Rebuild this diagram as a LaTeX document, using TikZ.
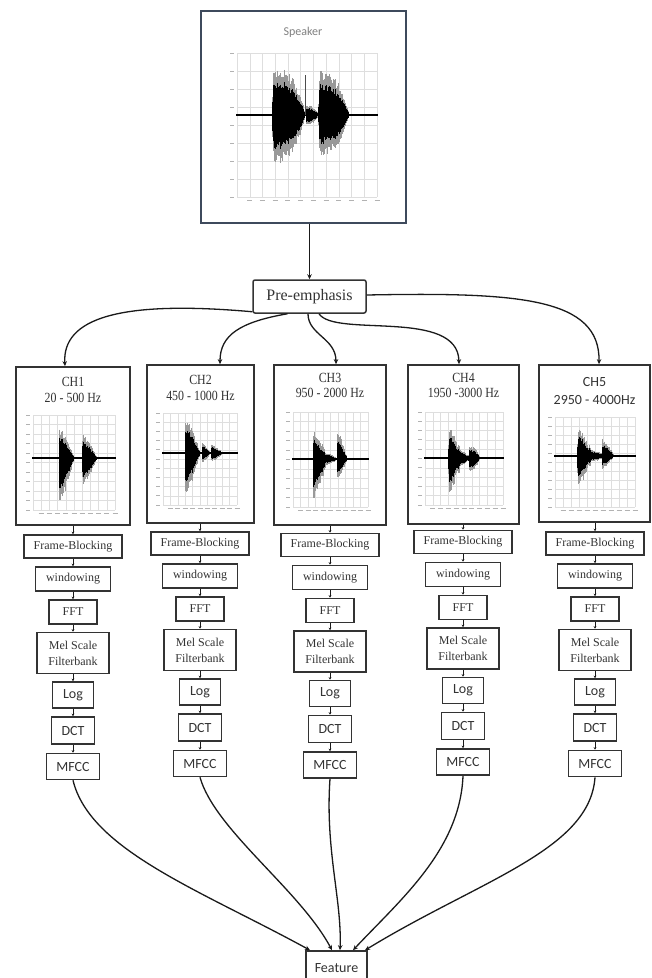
\documentclass[tikz,border=0pt]{standalone}
\usepackage{fontspec}
\setmainfont{Liberation Serif}
\newfontfamily\calib{Carlito}
\usepackage{graphicx}
\usetikzlibrary{arrows.meta}
\definecolor{txt}{HTML}{333333}
\definecolor{boxc}{HTML}{333333}
\definecolor{spkc}{HTML}{3E4A5C}
\definecolor{gridc}{HTML}{DEDEDE}
\definecolor{linec}{HTML}{1A1A1A}
\newcommand\sq[1]{\scalebox{0.85}[1]{#1}}
\newcommand\plotgrid[6]{%
 \foreach \k in {0,...,#5}{\pgfmathsetmacro\gx{#1+(#3-#1)*\k/#5}\draw[gridl] (\gx,#2) -- (\gx,#4);}
 \foreach \k in {0,...,#6}{\pgfmathsetmacro\gy{#2+(#4-#2)*\k/#6}\draw[gridl] (#1,\gy) -- (#3,\gy);\draw[tickl] (#1-7,\gy) -- (#1-3,\gy);}
 \foreach \k in {1,...,#5}{\pgfmathsetmacro\gx{#1+(#3-#1)*\k/#5}\draw[tickl] (\gx-2.5,#4+3) -- (\gx+2.5,#4+3);}
}
\newcommand\drawwave[6]{%
 \foreach \i in {0,...,#4}{%
  \pgfmathsetmacro\wt{\i/#4}%
  \pgfmathsetmacro\wvx{#1+(#2-#1)*\wt}%
  \pgfmathsetmacro\wup{(#5)*(0.75+0.25*rnd)+0.9}%
  \pgfmathsetmacro\wdn{(#6)*(0.75+0.25*rnd)+0.9}%
  \draw[wavegray] (\wvx,#3-\wup) -- (\wvx,#3+\wdn);
  \draw[wave] (\wvx,#3-0.72*\wup) -- (\wvx,#3+0.72*\wdn);
 }}
\newcommand\chainsteps[4]{%
 \node[sbox, minimum width=98pt, minimum height=23pt] (#1fb) at (#2,543.5+#3) {Frame-Blocking};
 \node[sbox, minimum width=75pt, minimum height=24pt] (#1win) at (#2,576+#3) {windowing};
 \node[sbox, minimum width=48pt, minimum height=24pt] (#1fft) at (#2,609+#3) {FFT};
 \node[sbox, minimum width=72pt, minimum height=41pt, align=center] (#1mel) at (#2,650+#3) {Mel Scale\\Filterbank};
 \node[cbox, minimum width=41pt, minimum height=26pt] (#1log) at (#2,692+#3) {Log};
 \node[cbox, minimum width=43pt, minimum height=27pt] (#1dct) at (#2,727.5+#3) {DCT};
 \node[cbox, minimum width=53pt, minimum height=26pt] (#1mfcc) at (#2,763.5+#3) {MFCC};
 \draw[link] (#1fb.north |- #4.south) -- (#1fb.north);
 \draw[link] (#1fb) -- (#1win);
 \draw[link] (#1win) -- (#1fft);
 \draw[link] (#1fft) -- (#1mel);
 \draw[link] (#1mel) -- (#1log);
 \draw[link] (#1log) -- (#1dct);
 \draw[link] (#1dct) -- (#1mfcc);
}
\begin{document}
\begin{tikzpicture}[x=1pt,y=-1pt,
 declare function={
  bu(\pq,\pa,\pb)=(\pq>\pa)*(\pq<\pb)*(1-((\pq-\pa)/(\pb-\pa))*((\pq-\pa)/(\pb-\pa)))*(1-0.3*(\pq-\pa)/(\pb-\pa))*min(1,(\pq-\pa)/(0.06*(\pb-\pa)));
  bs(\pq,\pa,\pb)=(\pq>\pa)*(\pq<\pb)*(1-((\pq-\pa)/(\pb-\pa))*((\pq-\pa)/(\pb-\pa))*((\pq-\pa)/(\pb-\pa)))*min(1,(\pq-\pa)/(0.05*(\pb-\pa)));
 },
 box/.style={draw=boxc, fill=white, inner sep=0pt, text=txt},
 chbox/.style={box, line width=1.7pt},
 sbox/.style={box, line width=1.6pt, font=\fontsize{12}{16}\selectfont},
 cbox/.style={box, line width=1.6pt, font=\calib\fontsize{14}{15}\selectfont},
 chtitle/.style={inner sep=0pt, text=txt, font=\fontsize{14}{15}\selectfont},
 link/.style={draw=linec, line width=0.7pt, -{Stealth[length=2.5pt,width=2.6pt]}},
 conn/.style={draw=linec, line width=1.3pt, -{Stealth[length=5pt,width=4.5pt]}},
 gridl/.style={draw=gridc, line width=0.45pt},
 tickl/.style={draw=black!30, line width=1pt},
 wave/.style={line width=1.1pt, draw=black},
 wavegray/.style={line width=1.1pt, draw=black!40},
]
\useasboundingbox (0,0) rectangle (652,978);
\fill[white] (0,0) rectangle (652,978);
\pgfmathsetseed{7}

% speaker
\node[draw=spkc, line width=1.6pt, fill=white, minimum width=205pt, minimum height=212pt, inner sep=0pt] (spk) at (303.5,117) {};
\node[font=\calib\fontsize{12}{13}\selectfont, text=black!50, inner sep=0pt] (spkt) at (303,32) {Speaker};
\plotgrid{237}{53}{377}{197}{11}{8}
\drawwave{237}{377}{115}{180}{48*bs(\wt,0.25,0.49)+9*bs(\wt,0.49,0.58)+43*bs(\wt,0.58,0.8)}{48*bs(\wt,0.25,0.49)+9*bs(\wt,0.49,0.58)+40*bs(\wt,0.58,0.8)}
\draw[line width=0.6pt, draw=black!70] (305,115) -- (305,75);

% pre-emphasis
\node[box, line width=1.5pt, rounded corners=2pt, minimum width=113pt, minimum height=33pt, font=\fontsize{16}{17}\selectfont] (pre) at (309.5,296.5) {Pre-emphasis};
\draw[conn] (pre.north |- spk.south) -- (pre.north);

% channel boxes
\node[chbox, minimum width=114pt, minimum height=158pt] (ch1) at (73,446) {};
\node[chbox, minimum width=107pt, minimum height=158pt] (ch2) at (200.5,444) {};
\node[chbox, minimum width=112pt, minimum height=160pt] (ch3) at (330,445) {};
\node[chbox, minimum width=111pt, minimum height=159pt] (ch4) at (463.5,444.5) {};
\node[chbox, minimum width=111pt, minimum height=157pt] (ch5) at (594.5,443.5) {};

\node[chtitle] (ch1a) at (73,382) {\sq{CH1}};
\node[chtitle] (ch1b) at (73,398) {\sq{20 - 500 Hz}};
\node[chtitle] (ch2a) at (200.5,380) {\sq{CH2}};
\node[chtitle] (ch2b) at (200.5,396) {\sq{450 - 1000 Hz}};
\node[chtitle] (ch3a) at (330,378) {\sq{CH3}};
\node[chtitle] (ch3b) at (330,393) {\sq{950 - 2000 Hz}};
\node[chtitle] (ch4a) at (463.5,378) {\sq{CH4}};
\node[chtitle] (ch4b) at (463.5,393) {\sq{1950 -3000 Hz}};
\node[chtitle, font=\calib\fontsize{14}{15}\selectfont] (ch5a) at (594.5,382) {CH5};
\node[chtitle, font=\calib\fontsize{14}{15}\selectfont] (ch5b) at (594.5,400) {2950 - 4000Hz};

% channel plots
\plotgrid{33}{415}{115}{510}{10}{10}
\drawwave{33}{115}{458}{110}{31*bu(\wt,0.31,0.5)+23*bu(\wt,0.6,0.78)}{45*bu(\wt,0.31,0.5)+29*bu(\wt,0.6,0.78)}
\plotgrid{163}{413}{237}{505}{10}{10}
\drawwave{163}{237}{453}{100}{36*bu(\wt,0.29,0.5)+9*bu(\wt,0.52,0.64)+8*bu(\wt,0.64,0.8)}{44*bu(\wt,0.29,0.5)+9*bu(\wt,0.52,0.64)+8*bu(\wt,0.64,0.8)}
\plotgrid{293}{412}{368}{507}{10}{10}
\drawwave{293}{368}{459}{100}{29*bu(\wt,0.26,0.44)+5*bs(\wt,0.38,0.58)+29*bu(\wt,0.58,0.72)}{41*bu(\wt,0.26,0.44)+5*bs(\wt,0.38,0.58)+21*bu(\wt,0.58,0.72)}
\plotgrid{425}{412}{503}{505}{10}{10}
\drawwave{425}{503}{458}{105}{31*bu(\wt,0.3,0.46)+7*bs(\wt,0.42,0.56)+11*bs(\wt,0.56,0.7)}{37*bu(\wt,0.3,0.46)+7*bs(\wt,0.42,0.56)+12*bs(\wt,0.56,0.7)}
\plotgrid{555}{417}{635}{507}{10}{10}
\drawwave{555}{635}{456}{105}{29*bu(\wt,0.28,0.46)+5*bs(\wt,0.42,0.6)+16*bu(\wt,0.58,0.74)}{31*bu(\wt,0.28,0.46)+5*bs(\wt,0.42,0.6)+12*bu(\wt,0.58,0.74)}

% connectors pre-emphasis -> channels
\draw[conn] ([yshift=2pt]pre.south west) .. controls (120,300) and (62,318) .. ([xshift=-8pt]ch1.north);
\draw[conn] ([xshift=-22pt]pre.south) .. controls (240,322) and (220,335) .. ([xshift=19.5pt]ch2.north);
\draw[conn] ([xshift=-1.5pt]pre.south) .. controls (308,335) and (336,338) .. ([xshift=6pt]ch3.north);
\draw[conn] ([xshift=9.5pt]pre.south) .. controls (335,338) and (458,308) .. ([xshift=-4.5pt]ch4.north);
\draw[conn] ([yshift=1.5pt]pre.east) .. controls (520,292) and (600,298) .. ([xshift=4.5pt]ch5.north);

% processing chains
\chainsteps{c1}{73}{3}{ch1}
\chainsteps{c2}{200}{0}{ch2}
\chainsteps{c3}{330}{1.5}{ch3}
\chainsteps{c4}{463}{-1.5}{ch4}
\chainsteps{c5}{595}{0}{ch5}

% feature
\node[cbox, minimum width=61pt, minimum height=34pt] (feat) at (336.5,968) {Feature};
\draw[conn] (c1mfcc.south) .. controls (90,850) and (200,890) .. ([xshift=-26.5pt]feat.north);
\draw[conn] (c2mfcc.south) .. controls (215,830) and (300,890) .. ([xshift=-4.5pt]feat.north);
\draw[conn] (c3mfcc.south) .. controls (325,850) and (342,900) .. ([xshift=3.5pt]feat.north);
\draw[conn] (c4mfcc.south) .. controls (460,850) and (400,900) .. ([xshift=16.5pt]feat.north);
\draw[conn] (c5mfcc.south) .. controls (590,850) and (480,880) .. ([xshift=28.5pt]feat.north);
\end{tikzpicture}
\end{document}
